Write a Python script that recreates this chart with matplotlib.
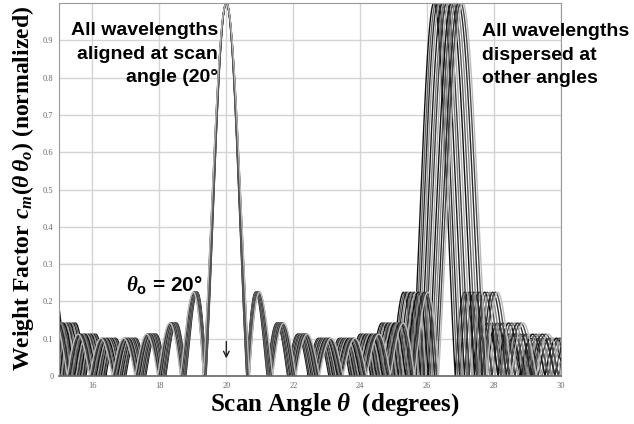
import numpy as np
import matplotlib.pyplot as plt

plt.rcParams['mathtext.fontset'] = 'custom'
plt.rcParams['mathtext.rm'] = 'Liberation Serif:bold'
plt.rcParams['mathtext.it'] = 'Liberation Serif:italic:bold'
plt.rcParams['mathtext.bf'] = 'Liberation Serif:bold'
plt.rcParams['mathtext.sf'] = 'Liberation Sans:bold'

# values
scan_angle = 20.0          # main beam, all wavelengths line up here
n_elements = 10            # from the lobe count between main and grating lobe
# peak of the grating lobe for each wavelength (deg)
grating_peaks = [26.20, 26.26, 26.32, 26.38, 26.45, 26.52, 26.58,
                 26.65, 26.72, 26.79, 26.86, 26.93, 27.00, 27.06]
line_greys = ['#111111', '#666666', '#2a2a2a', '#999999', '#1a1a1a',
              '#777777', '#3a3a3a', '#aaaaaa', '#111111', '#555555',
              '#888888', '#2a2a2a', '#4a4a4a', '#bbbbbb']
x_ticks = [16, 18, 20, 22, 24, 26, 28, 30]
y_ticks = [0, 0.1, 0.2, 0.3, 0.4, 0.5, 0.6, 0.7, 0.8, 0.9]
y_tick_labels = ['0', '0.1', '0.2', '0.3', '0.4', '0.5', '0.6', '0.7', '0.8', '0.9']

theta = np.linspace(15, 30, 4000)


def weight(theta, peak):
    # normalised array factor of a uniform linear array
    d_over_lam = 1.0 / (np.sin(np.radians(peak)) - np.sin(np.radians(scan_angle)))
    psi = 2 * np.pi * d_over_lam * (np.sin(np.radians(theta)) - np.sin(np.radians(scan_angle)))
    num = np.sin(n_elements * psi / 2)
    den = n_elements * np.sin(psi / 2)
    small = np.abs(den) < 1e-9
    return np.where(small, 1.0, np.abs(num / np.where(small, 1.0, den)))


fig = plt.figure(figsize=(6.34, 4.24), dpi=100)
ax = fig.add_axes([0.093, 0.113, 0.792, 0.880])

for peak, grey in zip(grating_peaks, line_greys):
    ax.plot(theta, weight(theta, peak), color=grey, lw=1.0)

ax.set_xlim(15, 30)
ax.set_ylim(0, 1.0)
ax.set_xticks(x_ticks)
ax.set_yticks(y_ticks)
ax.set_yticklabels(y_tick_labels)
ax.grid(True, color='#d4d4d4', lw=1)
ax.set_axisbelow(True)
ax.tick_params(length=0, labelsize=6, labelcolor='#666666', pad=4)
for lab in ax.get_xticklabels() + ax.get_yticklabels():
    lab.set_family('Liberation Serif')
for s in ['top', 'right', 'left']:
    ax.spines[s].set_color('#999999')
ax.spines['bottom'].set_color('#666666')
ax.spines['bottom'].set_linewidth(1.2)

ax.text(19.75, 0.948, 'All wavelengths\naligned at scan\nangle (20°', ha='right', va='top',
        multialignment='right', fontsize=14, fontweight='bold', family='Liberation Sans',
        linespacing=1.5)
ax.text(27.64, 0.945, 'All wavelengths\ndispersed at\nother angles', ha='left', va='top',
        fontsize=14, fontweight='bold', family='Liberation Sans', linespacing=1.5)
ax.text(17.0, 0.245, r'$\theta_{\mathsf{o}}$ = 20°', fontsize=15, fontweight='bold',
        family='Liberation Sans', va='center')
ax.annotate('', xy=(20.0, 0.04), xytext=(20.0, 0.10),
            arrowprops=dict(arrowstyle='->', color='#222222', lw=1))

fig.text(0.036, 0.555, r'Weight Factor $c_m(\theta\,\theta_o)$ (normalized)', rotation=90,
         ha='center', va='center', fontsize=17, fontweight='bold', family='Liberation Serif')
fig.text(0.528, 0.045, r'Scan Angle $\theta$  (degrees)', ha='center', va='center',
         fontsize=18, fontweight='bold', family='Liberation Serif')

fig.savefig('out.png', dpi=100)
